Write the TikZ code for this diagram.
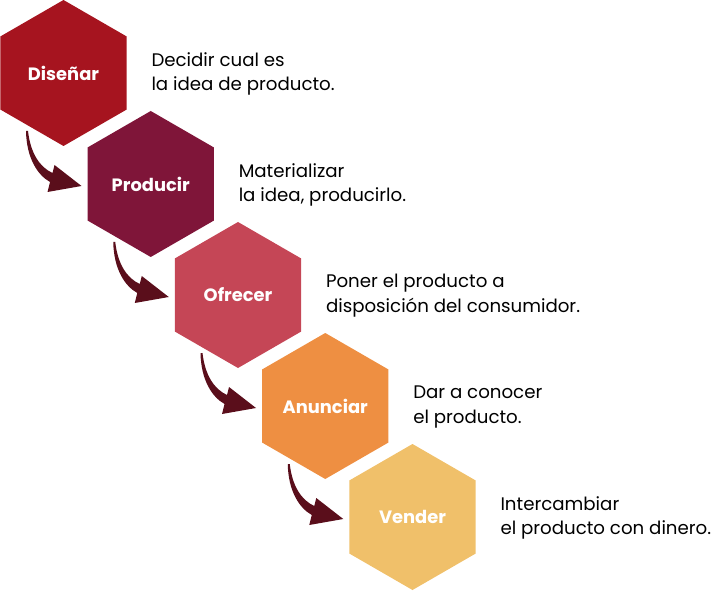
\documentclass[tikz,border=0pt]{standalone}
\usepackage{fontspec}
\setmainfont{Poppins}
\usetikzlibrary{shapes.geometric}

\definecolor{cDisenar}{HTML}{A6141F}
\definecolor{cProducir}{HTML}{7F1539}
\definecolor{cOfrecer}{HTML}{C54656}
\definecolor{cAnunciar}{HTML}{EE8F42}
\definecolor{cVender}{HTML}{F0C06A}
\definecolor{cFlecha}{HTML}{5A0E1B}

\tikzset{every picture/.style={line width=0.75pt}}
\tikzset{
	hexa/.style={regular polygon, regular polygon sides=6, shape border rotate=30, minimum size=109.5pt, inner sep=0pt, outer sep=0pt, draw=none, text=white, font=\fontsize{13.4}{16}\selectfont\bfseries},
	desc/.style={anchor=west, inner sep=0pt, align=left, font=\fontsize{13.65}{18.6}\selectfont}
}

\begin{document}
\begin{tikzpicture}[x=0.75pt,y=0.75pt,yscale=-1,xscale=1]
	\path[use as bounding box] (0,0) rectangle (713,591);

	%hexagons
	\node [hexa, fill=cDisenar] (disenar) at (63.5,73) {Diseñar};
	\node [hexa, fill=cProducir] (producir) at (150.75,184) {Producir};
	\node [hexa, fill=cOfrecer] (ofrecer) at (238,295) {Ofrecer};
	\node [hexa, fill=cAnunciar] (anunciar) at (325.25,406) {Anunciar};
	\node [hexa, fill=cVender] (vender) at (412.5,517) {Vender};

	%texts
	\node [desc] (tdisenar) at (151,74) {Decidir cual es\\la idea de producto.};
	\node [desc] (tproducir) at (238.25,185) {Materializar\\la idea, producirlo.};
	\node [desc] (tofrecer) at (325.5,296) {Poner el producto a\\disposición del consumidor.};
	\node [desc] (tanunciar) at (412.75,407) {Dar a conocer\\el producto.};
	\node [desc] (tvender) at (500,518) {Intercambiar\\el producto con dinero.};

	%arrows
	\foreach \h in {disenar,producir,ofrecer,anunciar}{
		\begin{scope}[shift={(\h.center)}]
			\fill [cFlecha] (-37.5,58) .. controls (-37,85) and (-26,102) .. (-13.5,109) -- (-16,119) -- (18,113) -- (-9,92) -- (-11,100) .. controls (-24,94) and (-33,80) .. (-35.5,58) -- cycle;
		\end{scope}
	}
\end{tikzpicture}
\end{document}
